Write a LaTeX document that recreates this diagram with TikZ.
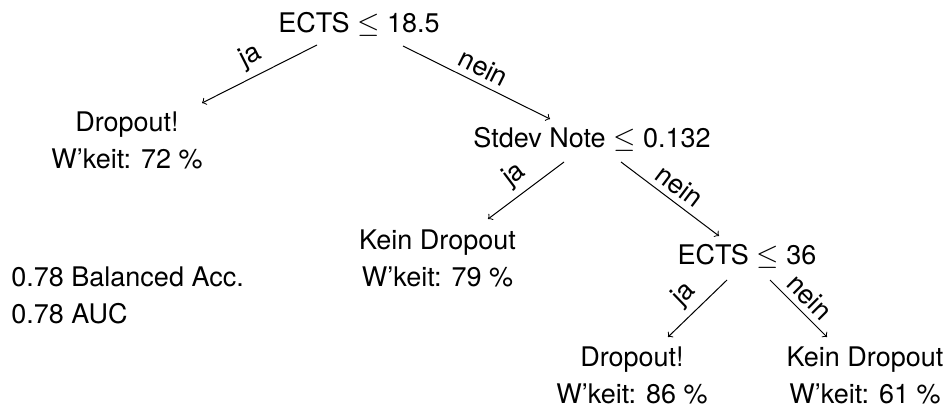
\documentclass[tikz,border=0pt]{standalone}
\usepackage{fontspec}
\setmainfont{TeX Gyre Heros}
\usetikzlibrary{calc}

\begin{document}
\begin{tikzpicture}[x=0.5pt, y=-0.5pt,
  every node/.style={font=\fontsize{13.5}{18.5}\selectfont, inner sep=0pt},
  tnode/.style={anchor=base, align=center},
  arr/.style={->, line width=0.5pt},
  lbl/.style={midway, sloped, above, inner sep=3pt}]
  \useasboundingbox (0,0) rectangle (946,405);

  % decision and leaf nodes (positions given at the last baseline)
  \node[tnode] (root) at (359,33)    {ECTS $\leq$ 18.5};
  \node[tnode] (l1)   at (127,169)   {Dropout!\\W'keit: 72 \%};
  \node[tnode] (sd)   at (592,148)   {Stdev Note $\leq$ 0.132};
  \node[tnode] (k79)  at (437.5,287) {Kein Dropout\\W'keit: 79 \%};
  \node[tnode] (e36)  at (747,265)   {ECTS $\leq$ 36};
  \node[tnode] (d86)  at (632,403)   {Dropout!\\W'keit: 86 \%};
  \node[tnode] (k61)  at (865,403)   {Kein Dropout\\W'keit: 61 \%};

  % model metrics
  \node[anchor=base west, align=left] (met) at (11,323)
    {0.78 Balanced Acc.\\0.78 AUC};

  % branches
  \draw[arr] ($(root.base)+(-42,12)$) -- node[lbl]{ja}   ($(l1.base)+(75,-66)$);
  \draw[arr] ($(root.base)+(44,13)$)  -- node[lbl]{nein} ($(sd.base)+(-42,-29)$);
  \draw[arr] ($(sd.base)+(-28,14)$)   -- node[lbl]{ja}   ($(k79.base)+(50.5,-68)$);
  \draw[arr] ($(sd.base)+(29,14)$)    -- node[lbl]{nein} ($(e36.base)+(-28,-29)$);
  \draw[arr] ($(e36.base)+(-20,15)$)  -- node[lbl]{ja}   ($(d86.base)+(36,-66)$);
  \draw[arr] ($(e36.base)+(23,15)$)   -- node[lbl]{nein} ($(k61.base)+(-38,-66)$);
\end{tikzpicture}
\end{document}
